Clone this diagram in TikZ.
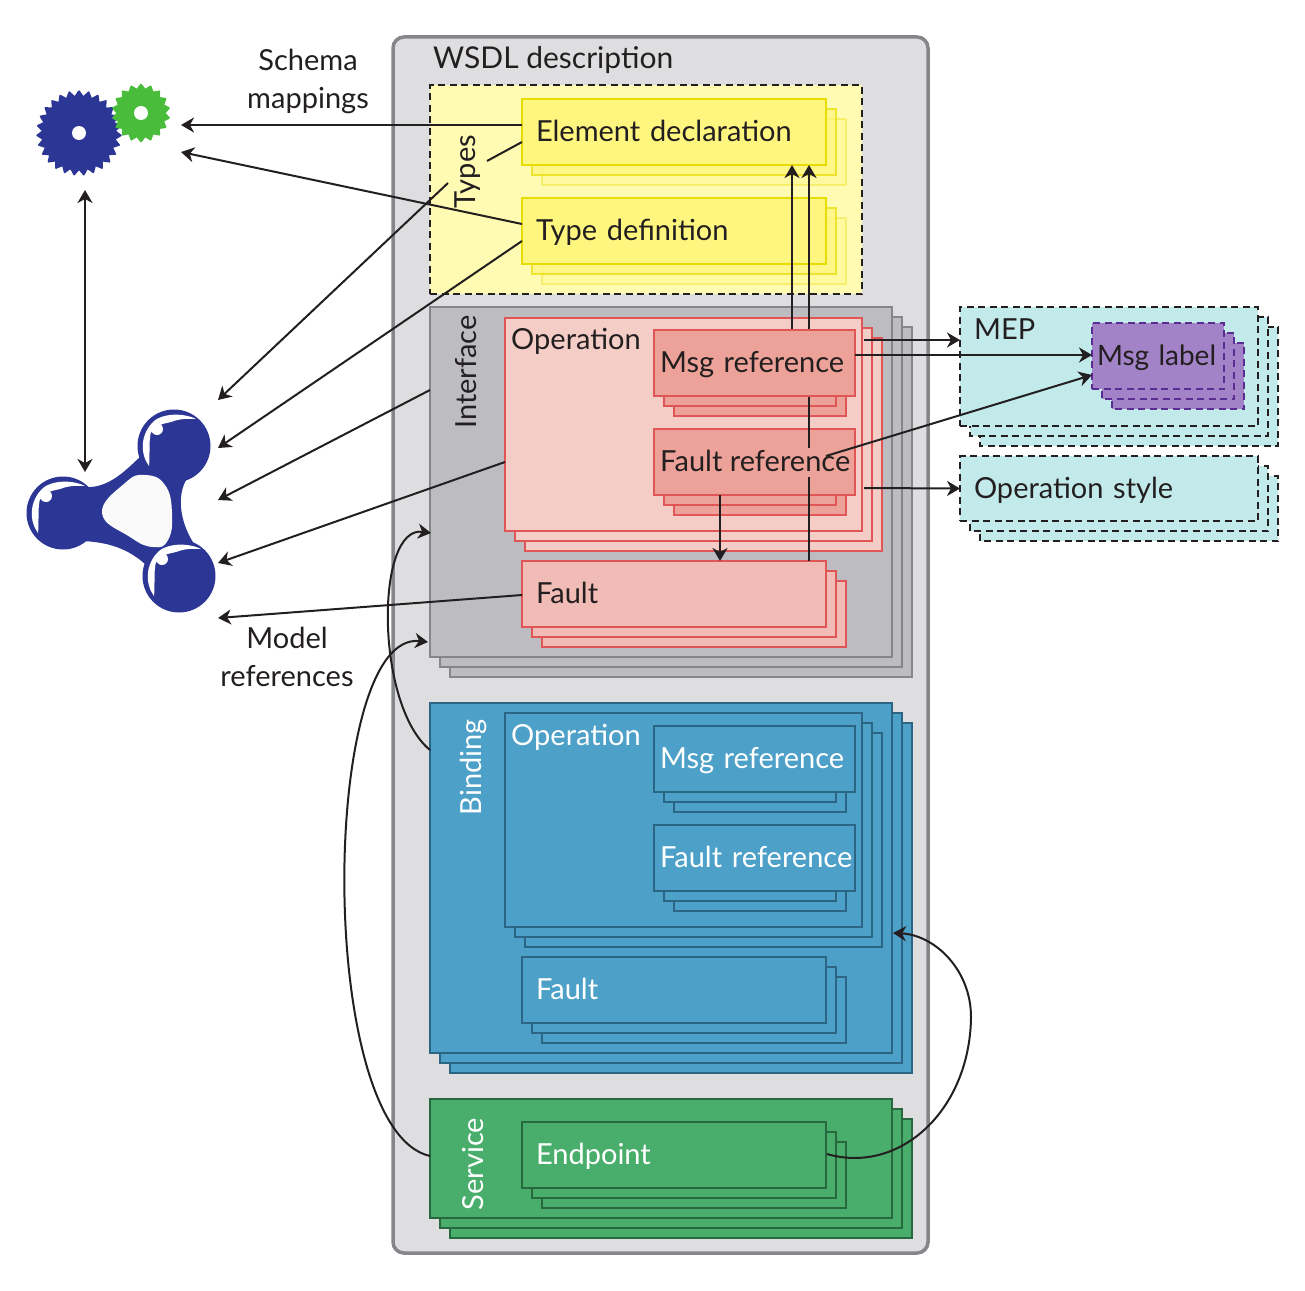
\documentclass[tikz,border=0pt]{standalone}
\usepackage{fontspec}
\setmainfont{Lato}
\usetikzlibrary{arrows.meta,shapes.geometric}
\definecolor{ink}{HTML}{231F20}
\definecolor{wsdlfill}{HTML}{DEDEE0}
\definecolor{wsdlline}{HTML}{85868A}
\definecolor{typesfill}{HTML}{FFFBB3}
\definecolor{yelfill}{HTML}{FFF67F}
\definecolor{yelline}{HTML}{E8DC00}
\definecolor{ifacefill}{HTML}{BDBDC1}
\definecolor{opfill}{HTML}{F5CDC7}
\definecolor{redline}{HTML}{E05555}
\definecolor{reffill}{HTML}{ECA298}
\definecolor{faultfill}{HTML}{F2BCB6}
\definecolor{mepfill}{HTML}{C3EAEA}
\definecolor{purfill}{HTML}{A383C7}
\definecolor{purline}{HTML}{5B2C91}
\definecolor{bluefill}{HTML}{4DA0C8}
\definecolor{blueline}{HTML}{2A6583}
\definecolor{greenfill}{HTML}{49AE6B}
\definecolor{greenline}{HTML}{27683F}
\definecolor{logoblue}{HTML}{2C3795}
\definecolor{geargreen}{HTML}{4ABC3B}
\tikzset{
  txt/.style={font=\fontsize{29}{34}\selectfont,text=ink},
  box/.style={draw,line width=2pt,anchor=north west,inner ysep=0pt,inner xsep=14pt,outer sep=0pt,
    minimum height=66,text height=26,text depth=7,align=left,txt},
  label/.style={txt,inner sep=0pt,anchor=base west},
  sidelabel/.style={txt,inner sep=0pt,rotate=90},
  conn/.style={draw=ink,line width=2pt,-{Stealth[length=13pt,width=15pt,inset=4pt]}},
  plainconn/.style={draw=ink,line width=2pt},
  types/.style={draw=yelline,fill=yelfill},
  iface/.style={draw=wsdlline,fill=ifacefill},
  op/.style={draw=redline,fill=opfill},
  msgref/.style={draw=redline,fill=reffill},
  fault/.style={draw=redline,fill=faultfill},
  bind/.style={draw=blueline,fill=bluefill},
  serv/.style={draw=greenline,fill=greenfill},
  mep/.style={draw=ink,fill=mepfill,dashed,dash pattern=on 7pt off 4.5pt},
  msglabel/.style={draw=purline,fill=purfill,dashed,dash pattern=on 7pt off 4.5pt},
}
% two copies peeking out behind a box: style, x, y, width, height
\newcommand{\copies}[5]{
  \foreach \off in {20,10} {
    \draw[line width=2pt,#1] (#2+\off,#3+\off) rectangle ++(#4,#5);
  }
}
% the same for the yellow boxes, whose copies fade out
\newcommand{\fadecopies}[2]{
  \foreach \off/\fade in {20/.35,10/.7} {
    \draw[line width=2pt,types,opacity=\fade] (#1+\off,#2+\off) rectangle ++(304,66);
  }
}
% highlight on one ball of the logo
\newcommand{\shine}[2]{
  \begin{scope}[shift={(#1,#2)}]
    \fill[white] (-25,20) .. controls (-34,8) and (-34,-12) .. (-20,-25) .. controls (-12,-32) and (8,-34) .. (22,-27)
      .. controls (10,-28) and (2,-26) .. (-3,-24) .. controls (-12,-22) and (-24,-20) .. (-24,-8) .. controls (-25,0) and (-24,10) .. (-25,20);
    \fill[white] (-17,-17) circle (6);
  \end{scope}
}
\begin{document}
\begin{tikzpicture}[x=1pt,y=-1pt]
  \useasboundingbox (0,0) rectangle (1305,1290);
  % WSDL container
  \draw[wsdlline,fill=wsdlfill,line width=3.5pt,rounded corners=11pt] (393,37) rectangle (928,1253);
  \node[label,font=\fontsize{30}{34}\selectfont] (wsdltitle) at (433,68) {WSDL description};
  % Types
  \node[draw=ink,fill=typesfill,dashed,dash pattern=on 7pt off 4.5pt,line width=2pt,anchor=north west,outer sep=0pt,minimum width=432,minimum height=209] (types) at (430,85) {};
  \fadecopies{522}{99}
  \node[box,types,minimum width=304,text width=276] (element) at (522,99) {Element declaration};
  \fadecopies{522}{198}
  \node[box,types,minimum width=304,text width=276] (typedef) at (522,198) {Type definition};
  \node[sidelabel] (typeslabel) at (468,172) {Types};
  % Interface
  \copies{iface}{430}{307}{462}{350}
  \node[box,iface,minimum width=462,minimum height=350] (interface) at (430,307) {};
  \node[sidelabel] (ifacelabel) at (466,372) {Interface};
  \copies{op}{505}{318}{357}{213}
  \node[box,op,minimum width=357,minimum height=213] (operation) at (505,318) {};
  \node[label] (oplabel) at (511,349) {Operation};
  \copies{msgref}{654}{330}{172}{66}
  \copies{msgref}{654}{429}{172}{66}
  \node[box,msgref,minimum width=201,text width=189,inner xsep=6pt] (faultref) at (654,429) {};
  \copies{fault}{522}{561}{304}{66}
  \node[box,fault,minimum width=304,text width=276] (faultbox) at (522,561) {Fault};
  % Binding
  \copies{bind}{430}{703}{462}{350}
  \node[box,bind,minimum width=462,minimum height=350] (binding) at (430,703) {};
  \node[sidelabel,text=white] (bindlabel) at (473,767) {Binding};
  \copies{bind}{505}{713}{357}{214}
  \node[box,bind,minimum width=357,minimum height=214] (bindop) at (505,713) {};
  \node[label,text=white] (bindoplabel) at (511,745) {Operation};
  \copies{bind}{654}{726}{172}{66}
  \node[box,bind,minimum width=201,text width=189,inner xsep=6pt,text=white] (bindmsg) at (654,726) {\mbox{Msg reference}};
  \copies{bind}{654}{825}{172}{66}
  \node[box,bind,minimum width=201,text width=189,inner xsep=6pt,text=white] (bindfref) at (654,825) {\mbox{Fault reference}};
  \copies{bind}{522}{957}{304}{66}
  \node[box,bind,minimum width=304,text width=276,text=white] (bindfault) at (522,957) {Fault};
  % Service
  \copies{serv}{430}{1099}{462}{119}
  \node[box,serv,minimum width=462,minimum height=119] (service) at (430,1099) {};
  \node[sidelabel,text=white] (servlabel) at (473,1164) {Service};
  \copies{serv}{522}{1122}{304}{66}
  \node[box,serv,minimum width=304,text width=276,text=white] (endpoint) at (522,1122) {Endpoint};
  % MEP and style
  \copies{mep}{960}{307}{298}{119}
  \node[box,mep,minimum width=298,minimum height=119] (mep) at (960,307) {};
  \node[label] (meplabel) at (974,339) {MEP};
  \copies{msglabel}{1092}{323}{132}{66}
  \node[box,msglabel,font=\fontsize{28}{34}\selectfont,minimum width=132,text width=122,inner xsep=5pt] (msglabel) at (1092,323) {\mbox{Msg label}};
  \copies{mep}{960}{456}{298}{65}
  \node[box,mep,minimum width=298,minimum height=65,text width=270] (opstyle) at (960,456) {Operation style};
  % Gears
  \node[star,star points=27,star point ratio=1.16,draw=logoblue,fill=logoblue,line width=1.5pt,line join=round,inner sep=0pt,minimum size=84] (biggear) at (79,133) {};
  \fill[white] (biggear.center) circle (7);
  \node[star,star points=18,star point ratio=1.2,draw=geargreen,fill=geargreen,line width=1.5pt,line join=round,inner sep=0pt,minimum size=57] (smallgear) at (141,113) {};
  \fill[white] (smallgear.center) circle (7);
  % Logo
  \fill[logoblue] (84,487) .. controls (108,489) and (125,471) .. (141,456) -- (189,476)
    .. controls (177,490) and (177,521) .. (197,548) -- (146,565)
    .. controls (130,550) and (110,542) .. (82,541) -- cycle;
  \foreach \cx/\cy in {63/513,174/446,179/576} {
    \fill[logoblue] (\cx,\cy) circle (36.5);
    \shine{\cx}{\cy}
  }
  \fill[white!98!black] plot [smooth cycle,tension=.8] coordinates {(102,513) (125,483) (145,475) (165,485) (172,513) (168,540) (153,547) (130,537)};
  \coordinate (gearin1) at (181,125);
  \coordinate (gearin2) at (181,152);
  \coordinate (logoin1) at (218,400);
  \coordinate (logoin2) at (218,448);
  \coordinate (logoin3) at (218,500);
  \coordinate (logoin4) at (218,563);
  \coordinate (logoin5) at (218,618);
  \coordinate (geardown) at (85,190);
  \coordinate (logotop) at (85,472);
  % Arrows to the left
  \draw[conn] ([yshift=7]element.west) -- (gearin1);
  \draw[conn] ([yshift=7]typedef.west) -- (gearin2);
  \draw[plainconn] ([yshift=-10]element.west) -- (487,161);
  \draw[conn] (448,183) -- (logoin1);
  \draw[conn] ([yshift=-10]typedef.west) -- (logoin2);
  \draw[conn] (430,390) -- (logoin3);
  \draw[conn] (505,462) -- (logoin4);
  \draw[conn] (522,595) -- (logoin5);
  \draw[conn,{Stealth[length=13pt,width=15pt,inset=4pt]}-{Stealth[length=13pt,width=15pt,inset=4pt]}] (geardown) -- (logotop);
  \node[txt,align=center,inner sep=0pt] (schemalabel) at (308,81) {Schema\\[4pt]mappings};
  \node[txt,align=center,inner sep=0pt] (modellabel) at (287,657) {Model\\[4pt]references};
  % Arrows between the boxes
  \draw[conn] (792,330) -- (792,165);
  \draw[conn] (809,448) -- (809,165);
  \draw[plainconn] (809,561) -- (809,477);
  \node[box,msgref,minimum width=201,text width=189,inner xsep=6pt] (msgrefbox) at (654,330) {\mbox{Msg reference}};
  \node[txt,inner sep=0pt,anchor=base west] (freflabel) at (660,471) {Fault reference};
  \draw[conn] (720,495) -- (720,561);
  \draw[conn] (864,340) -- (960,340);
  \draw[conn] (msgrefbox.east |- 0,355) -- (msglabel.west |- 0,355);
  \draw[conn] (826,456) -- (msglabel.west |- 0,375);
  \draw[conn] (864,488) -- (opstyle.west);
  % Curved arrows
  \draw[conn] (430,750) .. controls (375,705) and (375,525) .. (431,533);
  \draw[conn] (430,1156) .. controls (315,1130) and (320,630) .. (428,642);
  \draw[conn] (827,1154) .. controls (900,1175) and (970,1110) .. (971,1017) .. controls (971,970) and (935,935) .. (893,933);
\end{tikzpicture}
\end{document}
